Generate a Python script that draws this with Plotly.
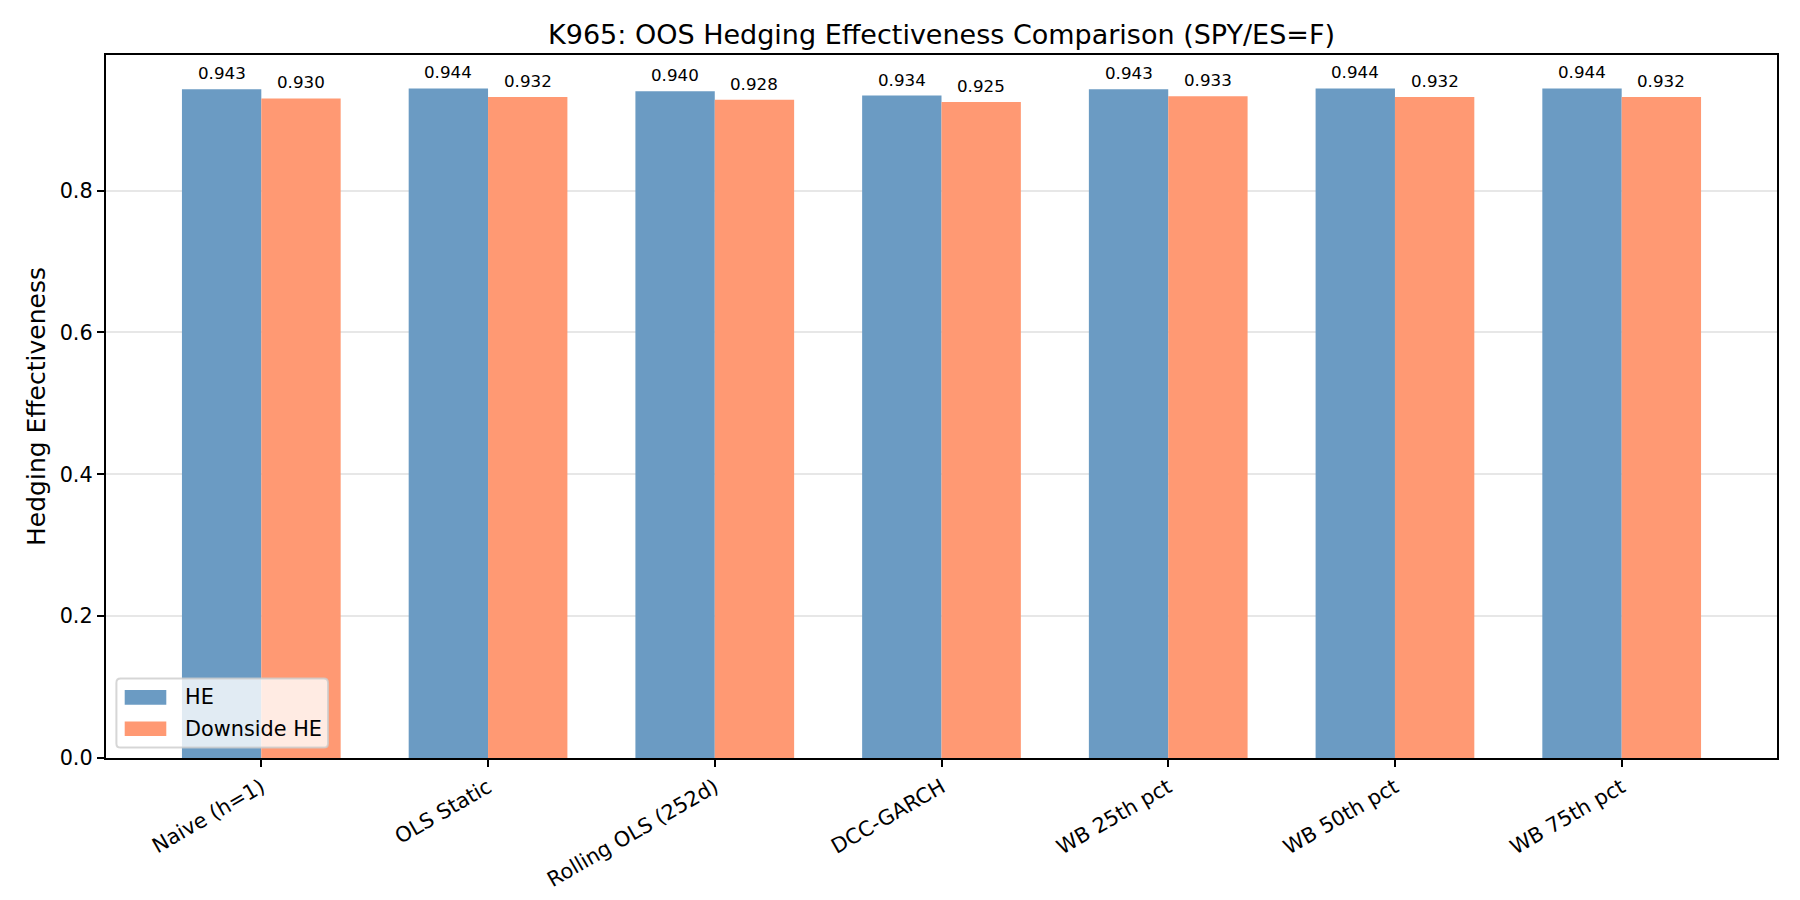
import plotly.graph_objects as go

methods = ["Naive (h=1)", "OLS Static", "Rolling OLS (252d)", "DCC-GARCH",
           "WB 25th pct", "WB 50th pct", "WB 75th pct"]
he = [0.943, 0.944, 0.940, 0.934, 0.943, 0.944, 0.944]
downside_he = [0.930, 0.932, 0.928, 0.925, 0.933, 0.932, 0.932]
series_names = ["HE", "Downside HE"]
series_colors = ["#6B9BC3", "#FF9973"]
y_ticks = [0.0, 0.2, 0.4, 0.6, 0.8]

W, H = 1800, 900
L, R, T, B = 106, 23, 55, 142
PW, PH = W - L - R, H - T - B
FONT = "DejaVu Sans"
BW = 0.35

fig = go.Figure()
idx = list(range(len(methods)))
for k, (name, vals, col) in enumerate(zip(series_names, [he, downside_he], series_colors)):
    off = (k - 0.5) * BW
    xs = [i + off for i in idx]
    fig.add_trace(go.Bar(
        x=xs, y=vals, name=name, width=BW, marker=dict(color=col, line=dict(width=0)),
        showlegend=False,
    ))
    for xv, v in zip(xs, vals):
        fig.add_annotation(x=xv, y=v, text=f"{v:.3f}", showarrow=False,
                           xanchor="center", yanchor="bottom", yshift=4,
                           font=dict(size=16.7, color="black", family=FONT))

ymax = max(max(he), max(downside_he)) * 1.05
n = len(methods)

fig.update_layout(
    width=W, height=H, autosize=False,
    margin=dict(l=L, r=R, t=T, b=B),
    paper_bgcolor="white", plot_bgcolor="white",
    font=dict(family=FONT, color="black", size=20.8),
    barmode="overlay",
    title=dict(text="K965: OOS Hedging Effectiveness Comparison (SPY/ES=F)",
               x=L / W + PW / W / 2, xanchor="center", xref="container",
               y=1 - 35 / H, yanchor="middle", yref="container",
               font=dict(size=27, family=FONT, color="black")),
    xaxis=dict(range=[-0.685, n - 1 + 0.685], tickvals=idx, ticktext=methods,
               showline=True, linecolor="black", automargin=False,
               linewidth=1.67, mirror=True, ticks="outside", ticklen=7.3,
               tickwidth=1.67, tickcolor="black", tickangle=-30,
               tickfont=dict(size=20.8), showgrid=False, zeroline=False),
    yaxis=dict(range=[0, ymax], tickvals=y_ticks, ticktext=[f"{v:.1f}" for v in y_ticks],
               showline=True, linecolor="black", linewidth=1.67, mirror=True,
               automargin=False,
               ticks="outside", ticklen=7.3, tickwidth=1.67, tickcolor="black",
               tickfont=dict(size=20.8), showgrid=True, gridcolor="#e7e7e7",
               gridwidth=1.67, zeroline=False,
               title=dict(text="Hedging Effectiveness", font=dict(size=25), standoff=7)),
)

# legend (lower left, matplotlib style)
def px(xp):
    return (xp - L) / PW

def py(yp):
    return (T + PH - yp) / PH

bx0, bx1, by0, by1 = 116.4, 328.0, 678.6, 747.6
r = 4.2
rx, ry = r / PW, r / PH
x0, x1, y0, y1 = px(bx0), px(bx1), py(by1), py(by0)
path = (f"M{x0+rx},{y0} L{x1-rx},{y0} Q{x1},{y0} {x1},{y0+ry} L{x1},{y1-ry} "
        f"Q{x1},{y1} {x1-rx},{y1} L{x0+rx},{y1} Q{x0},{y1} {x0},{y1-ry} "
        f"L{x0},{y0+ry} Q{x0},{y0} {x0+rx},{y0} Z")
fig.add_shape(type="path", path=path, xref="paper", yref="paper",
              fillcolor="rgba(255,255,255,0.8)", line=dict(color="rgba(204,204,204,0.8)", width=2))
row_centers = [697.4, 728.8]
for name, col, yc in zip(series_names, series_colors, row_centers):
    fig.add_shape(type="rect", xref="paper", yref="paper",
                  x0=px(124.7), x1=px(166.3), y0=py(yc + 7.3), y1=py(yc - 7.3),
                  fillcolor=col, line=dict(width=0))
    fig.add_annotation(x=px(183), y=py(yc), xref="paper", yref="paper", text=name,
                       showarrow=False, xanchor="left", yanchor="middle",
                       font=dict(size=20.8, color="black", family=FONT))

fig.write_html("out.html")
